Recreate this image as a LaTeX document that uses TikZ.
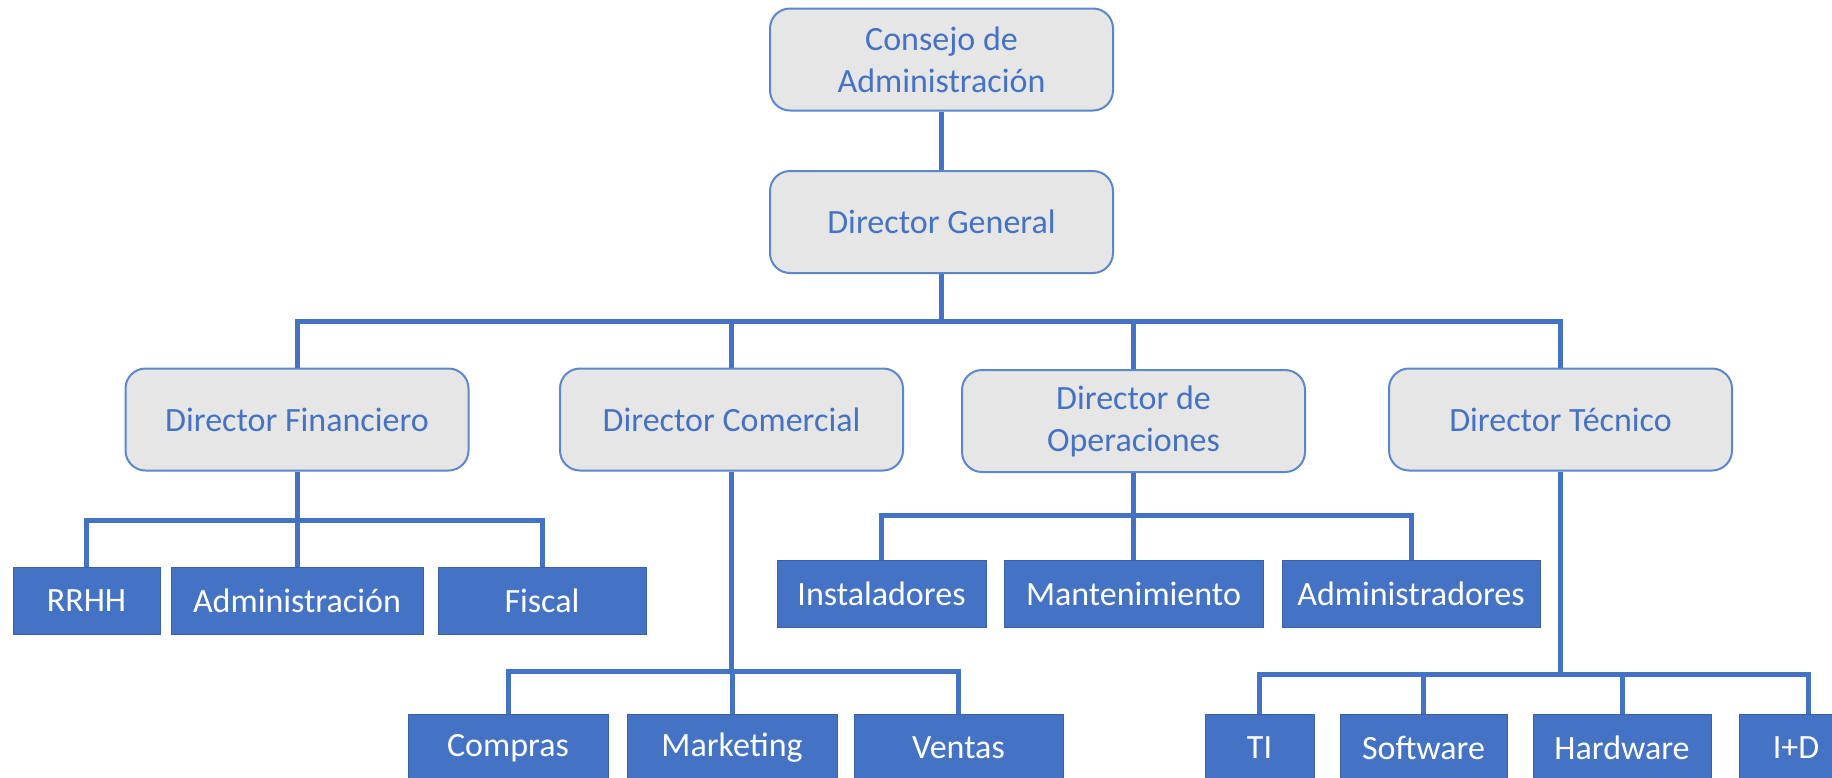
\documentclass[tikz,border=0pt]{standalone}
\usepackage{fontspec}
\setmainfont{Carlito}
\definecolor{orgblue}{HTML}{4472C4}
\definecolor{boxgrey}{HTML}{E7E6E6}
\definecolor{boxline}{HTML}{5B87CF}

\begin{document}
\begin{tikzpicture}
  [x=1pt,y=-1pt,every node/.style={font=\fontsize{34}{42}\selectfont,align=center,inner sep=0pt},
   head/.style={rectangle,rounded corners=20pt,fill=boxgrey,draw=boxline,line width=2pt,text=orgblue,minimum width=343pt,minimum height=102pt},
   unit/.style={rectangle,fill=orgblue,draw=orgblue!85!black,line width=1pt,text=white,minimum height=67pt},
   link/.style={orgblue,line width=5pt}]
\useasboundingbox (0,0) rectangle (1832,777);
\clip (0,0) rectangle (1832,777);

\node (cons)[head] at (941.5,59.5) {Consejo de\\Administración};
  \node (dg)[head] at (941.5,222) {Director General};
  \node (fin)[head] at (297,419.5) {Director Financiero};
  \node (com)[head] at (731.5,419.5) {Director Comercial};
  \node (ope)[head] at (1133.5,421) {Director de\\Operaciones};
  \node (tec)[head] at (1560.5,419.5) {Director Técnico};

  \node (rrhh)[unit,minimum width=147pt] at (86.5,601) {RRHH};
  \node (adm)[unit,minimum width=252pt] at (297,601) {Administración};
  \node (fis)[unit,minimum width=208pt] at (542,601) {Fiscal};

  \node (inst)[unit,minimum width=209pt] at (881.5,594) {Instaladores};
  \node (mant)[unit,minimum width=259pt] at (1133.5,594) {Mantenimiento};
  \node (admr)[unit,minimum width=258pt] at (1411,594) {Administradores};

  \node (comp)[unit,minimum width=200pt] at (508,748) {Compras};
  \node (mark)[unit,minimum width=210pt] at (732,748) {Marketing};
  \node (vent)[unit,minimum width=209pt] at (958.5,748) {Ventas};

  \node (ti)[unit,minimum width=109pt] at (1259.5,748) {TI};
  \node (soft)[unit,minimum width=167pt] at (1423.5,748) {Software};
  \node (hard)[unit,minimum width=178pt] at (1622,748) {Hardware};
  \node (iyd)[unit,minimum width=114pt] at (1796,748) {I+D};

 % buses
 \coordinate (bdg) at (941.5,321);
 \coordinate (bfin) at (297,520);
 \coordinate (bope) at (1133.5,515);
 \coordinate (bcom) at (731.5,671);
 \coordinate (btec) at (1560.5,674);

 \draw[link] (cons.south) -- (dg.north);
 \foreach \n in {fin,com,ope,tec}
   \draw[link] (dg.south) -- (bdg) -| (\n.north);
 \foreach \n in {rrhh,adm,fis}
   \draw[link] (fin.south) -- (bfin) -| (\n.north);
 \foreach \n in {inst,mant,admr}
   \draw[link] (ope.south) -- (bope) -| (\n.north);
 \foreach \n in {comp,mark,vent}
   \draw[link] (com.south) -- (bcom) -| (\n.north);
 \foreach \n in {ti,soft,hard}
   \draw[link] (tec.south) -- (btec) -| (\n.north);
 \draw[link] (tec.south) -- (btec) -| ([xshift=12pt]iyd.north);

\end{tikzpicture}
\end{document}
